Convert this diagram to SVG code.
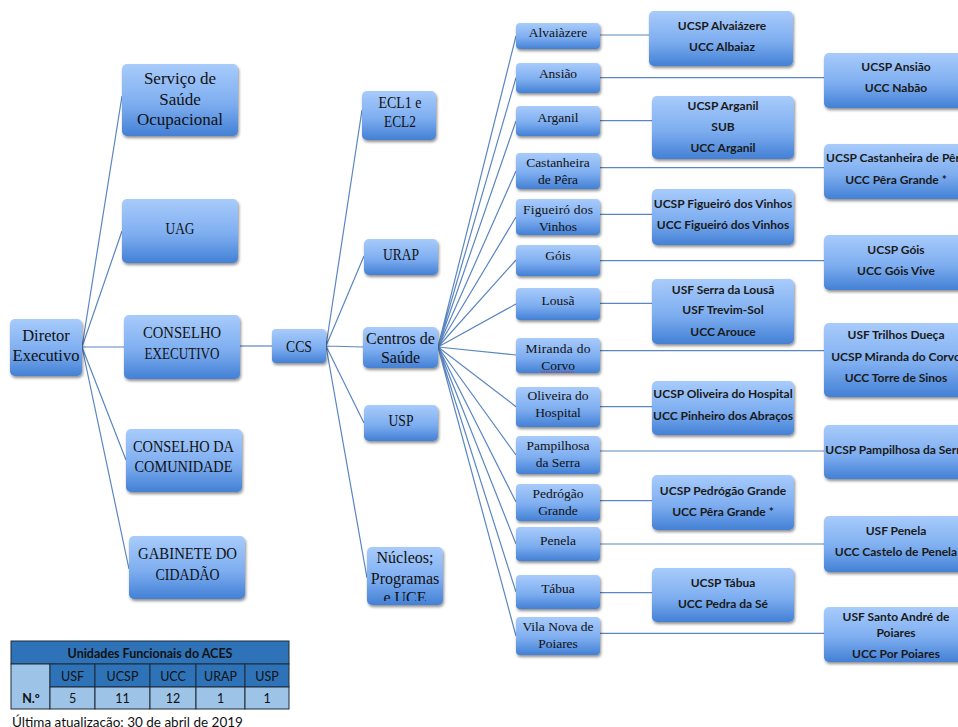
<svg xmlns="http://www.w3.org/2000/svg" width="958" height="727" viewBox="0 0 958 727">
<defs>
<linearGradient id="g" x1="0" y1="0" x2="0" y2="1">
<stop offset="0" stop-color="#a8cbfb"/>
<stop offset="0.55" stop-color="#7eaef0"/>
<stop offset="1" stop-color="#4380d5"/>
</linearGradient>
<filter id="sh" x="-10%" y="-10%" width="125%" height="135%">
<feGaussianBlur in="SourceAlpha" stdDeviation="1.6"/>
<feOffset dx="1" dy="2.2" result="o"/>
<feComponentTransfer><feFuncA type="linear" slope="0.45"/></feComponentTransfer>
<feMerge><feMergeNode/><feMergeNode in="SourceGraphic"/></feMerge>
</filter>
<clipPath id="clipNuc"><rect x="367" y="546" width="77" height="55"/></clipPath>
</defs>
<style>
.box{fill:url(#g);filter:url(#sh);}
.c line,.c path{stroke:#5a86c2;stroke-width:1.2;fill:none;}
.sf{font-family:"Liberation Serif","DejaVu Serif",serif;fill:#111;text-anchor:middle;}
.l{font-size:17px;}
.m{font-size:16px;}
.d{font-size:13.5px;}
.b{font-family:Lato,"Liberation Sans",sans-serif;font-weight:bold;font-size:12px;fill:#1a1a1a;text-anchor:middle;}
.t{font-family:Lato,"Liberation Sans",sans-serif;font-size:12.5px;fill:#111;text-anchor:middle;}
.tb{font-weight:bold;}
.cell{stroke:#1c2a3a;stroke-width:1;}
.dk{fill:#2e73b8;}
.lt{fill:#9dc3e6;}
</style>
<rect width="958" height="727" fill="#ffffff"/>

<g id="connectors" class="c">
<path d="M82 347L122 96M82 347L122 231M82 347L124 347M82 347L126 460M82 347L129 569"/>
<path d="M240 346L272 346"/>
<path d="M326 346L362 110M326 346L364 256M326 346L363 347M326 346L364 423M326 346L367 578"/>
<path d="M438 347L516 36M438 347L516 77.7M438 347L516 121M438 347L516 171M438 347L516 217M438 347L516 260M438 347L516 304M438 347L516 355M438 347L516 406.7M438 347L516 455M438 347L516 502M438 347L516 544M438 347L516 592M438 347L516 636"/>
<path d="M600 35L649 35M600 77.7L824 77.7M600 120.7L652 120.7M600 167.7L824 167.7M600 214.3L652 214.3M600 260.7L824 260.7M600 303.3L652 303.3M600 350.7L824 350.7M600 406.7L652 406.7M600 451L824 451M600 500.7L652 500.7M600 544L824 544M600 592.7L652 592.7M600 633.3L824 633.3"/>
</g>

<g id="n-diretor"><rect class="box" x="10" y="319" width="72" height="57" rx="5"/>
<text class="sf" font-size="16.5" x="46" y="340.5">Diretor</text><text class="sf" font-size="16.5" x="46" y="360.5">Executivo</text></g>

<g id="n-servico"><rect class="box" x="122" y="64" width="116" height="72" rx="5"/>
<text class="sf l" x="180" y="84">Serviço de</text><text class="sf l" x="180" y="104.6">Saúde</text><text class="sf l" x="180" y="124.6">Ocupacional</text></g>

<g id="n-uag"><rect class="box" x="122" y="199" width="116" height="64" rx="5"/>
<text class="sf l" x="180" y="234" textLength="29" lengthAdjust="spacingAndGlyphs">UAG</text></g>

<g id="n-conselho-exec"><rect class="box" x="124" y="315" width="116" height="64" rx="5"/>
<text class="sf l" x="182" y="338.3" textLength="78" lengthAdjust="spacingAndGlyphs">CONSELHO</text><text class="sf l" x="182" y="359" textLength="75" lengthAdjust="spacingAndGlyphs">EXECUTIVO</text></g>

<g id="n-conselho-com"><rect class="box" x="126" y="429" width="116" height="63" rx="5"/>
<text class="sf l" x="183.5" y="451.7" textLength="101" lengthAdjust="spacingAndGlyphs">CONSELHO DA</text><text class="sf l" x="183.5" y="472.3" textLength="98" lengthAdjust="spacingAndGlyphs">COMUNIDADE</text></g>

<g id="n-gabinete"><rect class="box" x="129" y="536" width="116" height="63" rx="5"/>
<text class="sf l" x="187.5" y="559" textLength="99" lengthAdjust="spacingAndGlyphs">GABINETE DO</text><text class="sf l" x="187.5" y="579.7" textLength="64" lengthAdjust="spacingAndGlyphs">CIDADÃO</text></g>

<g id="n-ccs"><rect class="box" x="272" y="329" width="54" height="34" rx="4"/>
<text class="sf l" x="299" y="351.5" textLength="26" lengthAdjust="spacingAndGlyphs">CCS</text></g>

<g id="n-ecl"><rect class="box" x="362" y="91" width="74" height="49" rx="5"/>
<text class="sf m" x="400" y="107.6" textLength="43" lengthAdjust="spacingAndGlyphs">ECL1 e</text><text class="sf m" x="400" y="127" textLength="32" lengthAdjust="spacingAndGlyphs">ECL2</text></g>

<g id="n-urap"><rect class="box" x="364" y="239" width="74" height="36" rx="5"/>
<text class="sf m" x="401" y="259.6" textLength="36" lengthAdjust="spacingAndGlyphs">URAP</text></g>

<g id="n-centros"><rect class="box" x="363" y="327" width="75" height="41" rx="5"/>
<text class="sf m" x="400.5" y="344">Centros de</text><text class="sf m" x="400.5" y="363">Saúde</text></g>

<g id="n-usp"><rect class="box" x="364" y="405" width="74" height="36" rx="5"/>
<text class="sf m" x="401" y="425.6" textLength="25" lengthAdjust="spacingAndGlyphs">USP</text></g>

<g id="n-nucleos"><rect class="box" x="367" y="547" width="76" height="58" rx="5"/>
<g clip-path="url(#clipNuc)"><text class="sf m" x="405" y="563.3">Núcleos;</text><text class="sf m" x="405" y="584.3">Programas</text><text class="sf m" x="405" y="603">e UCE</text></g></g>

<g id="n-alvaiazere"><rect class="box" x="516" y="23" width="84" height="26" rx="4"/><text class="sf d" x="558" y="37.2">Alvaiàzere</text></g>
<g id="n-ansiao"><rect class="box" x="516" y="63" width="84" height="30" rx="4"/><text class="sf d" x="558" y="77.8">Ansião</text></g>
<g id="n-arganil"><rect class="box" x="516" y="106" width="84" height="30" rx="4"/><text class="sf d" x="558" y="121.8">Arganil</text></g>
<g id="n-castanheira"><rect class="box" x="516" y="153" width="84" height="36" rx="4"/><text class="sf d" x="558" y="166.8">Castanheira</text><text class="sf d" x="558" y="183.5">de Pêra</text></g>
<g id="n-figueiro"><rect class="box" x="516" y="199" width="84" height="36" rx="4"/><text class="sf d" x="558" y="213.5" textLength="70" lengthAdjust="spacing">Figueiró dos</text><text class="sf d" x="558" y="230.5">Vinhos</text></g>
<g id="n-gois"><rect class="box" x="516" y="245" width="84" height="31" rx="4"/><text class="sf d" x="558" y="259.5">Góis</text></g>
<g id="n-lousa"><rect class="box" x="516" y="288" width="84" height="32" rx="4"/><text class="sf d" x="558" y="304.5">Lousã</text></g>
<g id="n-miranda"><rect class="box" x="516" y="338" width="84" height="35" rx="4"/><text class="sf d" x="558" y="352.8" textLength="65" lengthAdjust="spacing">Miranda do</text><text class="sf d" x="558" y="369.5">Corvo</text>
<line x1="541" y1="372" x2="574" y2="372" stroke="#e02020" stroke-width="1.2" stroke-dasharray="1.2 1.3"/></g>
<g id="n-oliveira"><rect class="box" x="516" y="387" width="84" height="40" rx="4"/><text class="sf d" x="558" y="400.2">Oliveira do</text><text class="sf d" x="558" y="417.2">Hospital</text></g>
<g id="n-pampilhosa"><rect class="box" x="516" y="436" width="84" height="38" rx="4"/><text class="sf d" x="558" y="450.2">Pampilhosa</text><text class="sf d" x="558" y="466.8">da Serra</text></g>
<g id="n-pedrogao"><rect class="box" x="516" y="484" width="84" height="37" rx="4"/><text class="sf d" x="558" y="497.8">Pedrógão</text><text class="sf d" x="558" y="515.2">Grande</text></g>
<g id="n-penela"><rect class="box" x="516" y="527" width="84" height="34" rx="4"/><text class="sf d" x="558" y="544.5">Penela</text></g>
<g id="n-tabua"><rect class="box" x="516" y="575" width="84" height="34" rx="4"/><text class="sf d" x="558" y="592.8">Tábua</text></g>
<g id="n-vilanova"><rect class="box" x="516" y="617" width="84" height="38" rx="4"/><text class="sf d" x="558" y="631.2">Vila Nova de</text><text class="sf d" x="558" y="647.8">Poiares</text></g>

<g id="u-alvaiazere"><rect class="box" x="649" y="11" width="144" height="55" rx="5"/><text class="b" x="722" y="30">UCSP Alvaiázere</text><text class="b" x="722" y="51">UCC Albaiaz</text></g>
<g id="u-arganil"><rect class="box" x="652" y="96" width="142" height="63" rx="5"/><text class="b" x="723" y="110">UCSP Arganil</text><text class="b" x="723" y="131">SUB</text><text class="b" x="723" y="152">UCC Arganil</text></g>
<g id="u-figueiro"><rect class="box" x="652" y="189" width="142" height="56" rx="5"/><text class="b" x="723" y="208.3">UCSP Figueiró dos Vinhos</text><text class="b" x="723" y="229.3">UCC Figueiró dos Vinhos</text></g>
<g id="u-lousa"><rect class="box" x="652" y="279" width="142" height="65" rx="5"/><text class="b" x="723" y="293.6">USF Serra da Lousã</text><text class="b" x="723" y="314.3">USF Trevim-Sol</text><text class="b" x="723" y="336">UCC Arouce</text></g>
<g id="u-oliveira"><rect class="box" x="652" y="381" width="142" height="54" rx="5"/><text class="b" x="723" y="398.3">UCSP Oliveira do Hospital</text><text class="b" x="723" y="420.3">UCC Pinheiro dos Abraços</text></g>
<g id="u-pedrogao"><rect class="box" x="652" y="475" width="142" height="55" rx="5"/><text class="b" x="723" y="495">UCSP Pedrógão Grande</text><text class="b" x="723" y="516">UCC Pêra Grande *</text></g>
<g id="u-tabua"><rect class="box" x="652" y="568" width="142" height="54" rx="5"/><text class="b" x="723" y="587">UCSP Tábua</text><text class="b" x="723" y="607.6">UCC Pedra da Sé</text></g>

<g id="u-ansiao"><rect class="box" x="824" y="53" width="145" height="55" rx="5"/><text class="b" x="896" y="71">UCSP Ansião</text><text class="b" x="896" y="91.6">UCC Nabão</text></g>
<g id="u-castanheira"><rect class="box" x="824" y="144" width="145" height="55" rx="5"/><text class="b" x="896" y="162">UCSP Castanheira de Pêra</text><text class="b" x="896" y="183.6">UCC Pêra Grande *</text></g>
<g id="u-gois"><rect class="box" x="824" y="235" width="145" height="55" rx="5"/><text class="b" x="896" y="254.3">UCSP Góis</text><text class="b" x="896" y="275">UCC Góis  Vive</text></g>
<g id="u-miranda"><rect class="box" x="824" y="323" width="145" height="74" rx="5"/><text class="b" x="896" y="339.3">USF Trilhos Dueça</text><text class="b" x="896" y="361">UCSP Miranda do Corvo</text><text class="b" x="896" y="382">UCC Torre de Sinos</text></g>
<g id="u-pampilhosa"><rect class="box" x="824" y="425" width="145" height="54" rx="5"/><text class="b" x="896" y="454.3">UCSP Pampilhosa da Serra</text></g>
<g id="u-penela"><rect class="box" x="824" y="516" width="145" height="56" rx="5"/><text class="b" x="896" y="535.3">USF Penela</text><text class="b" x="896" y="556">UCC Castelo de Penela</text></g>
<g id="u-poiares"><rect class="box" x="824" y="607" width="145" height="55" rx="5"/><text class="b" x="896" y="621">USF Santo André de</text><text class="b" x="896" y="636.6">Poiares</text><text class="b" x="896" y="658.3">UCC Por Poiares</text></g>

<g id="table">
<rect class="cell dk" x="11" y="641" width="278" height="23"/>
<rect class="cell lt" x="11" y="664" width="39" height="45"/>
<rect class="cell dk" x="50" y="664" width="45" height="23"/>
<rect class="cell dk" x="95" y="664" width="55" height="23"/>
<rect class="cell dk" x="150" y="664" width="46" height="23"/>
<rect class="cell dk" x="196" y="664" width="49" height="23"/>
<rect class="cell dk" x="245" y="664" width="44" height="23"/>
<rect class="cell lt" x="50" y="687" width="45" height="22"/>
<rect class="cell lt" x="95" y="687" width="55" height="22"/>
<rect class="cell lt" x="150" y="687" width="46" height="22"/>
<rect class="cell lt" x="196" y="687" width="49" height="22"/>
<rect class="cell lt" x="245" y="687" width="44" height="22"/>
<text class="t tb" x="150" y="657.8">Unidades Funcionais do ACES</text>
<text class="t" x="72.5" y="680.5">USF</text>
<text class="t" x="122.5" y="680.5">UCSP</text>
<text class="t" x="173" y="680.5">UCC</text>
<text class="t" x="220.5" y="680.5">URAP</text>
<text class="t" x="267" y="680.5">USP</text>
<text class="t tb" x="31" y="702.5">N.º</text>
<text class="t" x="72.5" y="702.5">5</text>
<text class="t" x="122.5" y="702.5">11</text>
<text class="t" x="173" y="702.5">12</text>
<text class="t" x="220.5" y="702.5">1</text>
<text class="t" x="267" y="702.5">1</text>
</g>
<text id="footer" x="12" y="727" font-family="Lato,'Liberation Sans',sans-serif" font-size="13.5" fill="#111">Última atualização: 30 de abril de 2019</text>
</svg>
